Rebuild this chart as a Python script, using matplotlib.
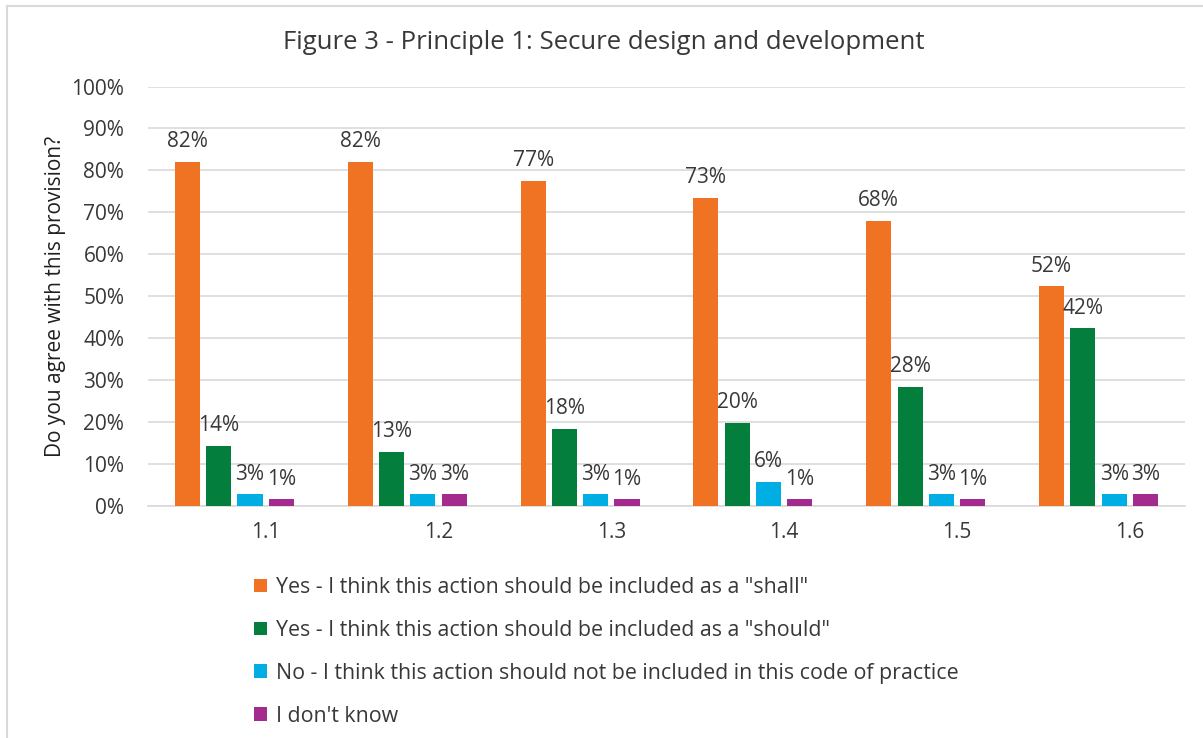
import numpy as np
import matplotlib.pyplot as plt
from matplotlib.lines import Line2D

plt.rcParams["font.family"] = ["Open Sans", "DejaVu Sans"]

categories = ["1.1", "1.2", "1.3", "1.4", "1.5", "1.6"]
series_names = [
    'Yes - I think this action should be included as a "shall"',
    'Yes - I think this action should be included as a "should"',
    "No - I think this action should not be included in this code of practice",
    "I don't know",
]
shall = [82, 82, 77, 73, 68, 52]
should = [14, 13, 18, 20, 28, 42]
not_included = [3, 3, 3, 6, 3, 3]
dont_know = [1, 3, 1, 1, 1, 3]
# bar heights as drawn (labels are rounded)
shall_h = [82, 82, 77.5, 73.5, 68, 52.3]
should_h = [14.3, 12.8, 18.3, 19.8, 28.3, 42.3]
not_h = [2.7, 2.7, 2.7, 5.7, 2.7, 2.7]
dk_h = [1.5, 2.7, 1.5, 1.5, 1.5, 2.7]

colors = ["#F07323", "#037E3D", "#00AEE3", "#A32B8E"]
text_color = "#383838"
fs = 15

fig = plt.figure(figsize=(12.03, 7.38), dpi=100)
ax = fig.add_axes([0.123, 0.315, 0.862, 0.5677])

x = np.arange(len(categories))
slot = 0.181
width = 0.145
heights = [shall_h, should_h, not_h, dk_h]
labels = [shall, should, not_included, dont_know]
for i, (h, lab, c, name) in enumerate(zip(heights, labels, colors, series_names)):
    pos = x + (i - 1.5) * slot
    ax.bar(pos, h, width=width, color=c, label=name, zorder=3)
    for px, hv, lv in zip(pos, h, lab):
        ax.text(px, hv + 2.3, f"{lv}%", ha="center", va="bottom",
                fontsize=fs, color=text_color)

ax.set_xlim(-0.5, len(categories) - 0.5)
ax.set_ylim(0, 100)
ax.set_yticks(np.arange(0, 101, 10))
ax.set_yticklabels([f"{v}%" for v in range(0, 101, 10)], fontsize=fs, color=text_color)
ax.set_xticks(x + slot)
ax.set_xticklabels(categories, fontsize=fs, color=text_color)
ax.tick_params(axis="both", length=0)
ax.tick_params(axis="x", pad=12)
ax.tick_params(axis="y", pad=17)
ax.grid(axis="y", color="#D9D9D9", linewidth=1.2, zorder=0)
for s in ["top", "right", "left"]:
    ax.spines[s].set_visible(False)
ax.spines["bottom"].set_color("#D9D9D9")
ax.spines["bottom"].set_linewidth(1.2)

ax.set_ylabel("Do you agree with this provision?", fontsize=fs, color="#202020", labelpad=4)
fig.text(0.502, 0.943, "Figure 3 - Principle 1: Secure design and development",
         ha="center", va="center", fontsize=18.5, color=text_color)

handles, leg_labels = ax.get_legend_handles_labels()
fig.legend(handles, leg_labels, loc="upper left", bbox_to_anchor=(0.211, 0.218),
           frameon=False, fontsize=15.4, handlelength=0.6, handleheight=0.6,
           handletextpad=0.45, labelspacing=1.02, labelcolor=text_color,
           borderaxespad=0, borderpad=0)

# chart frame
fig.add_artist(Line2D([7 / 1203, 1], [1 - 6 / 738, 1 - 6 / 738], color="#D9D9D9", linewidth=1.5))
fig.add_artist(Line2D([7 / 1203, 7 / 1203], [0, 1 - 6 / 738], color="#D9D9D9", linewidth=1.5))

fig.savefig("out.png", dpi=100)
